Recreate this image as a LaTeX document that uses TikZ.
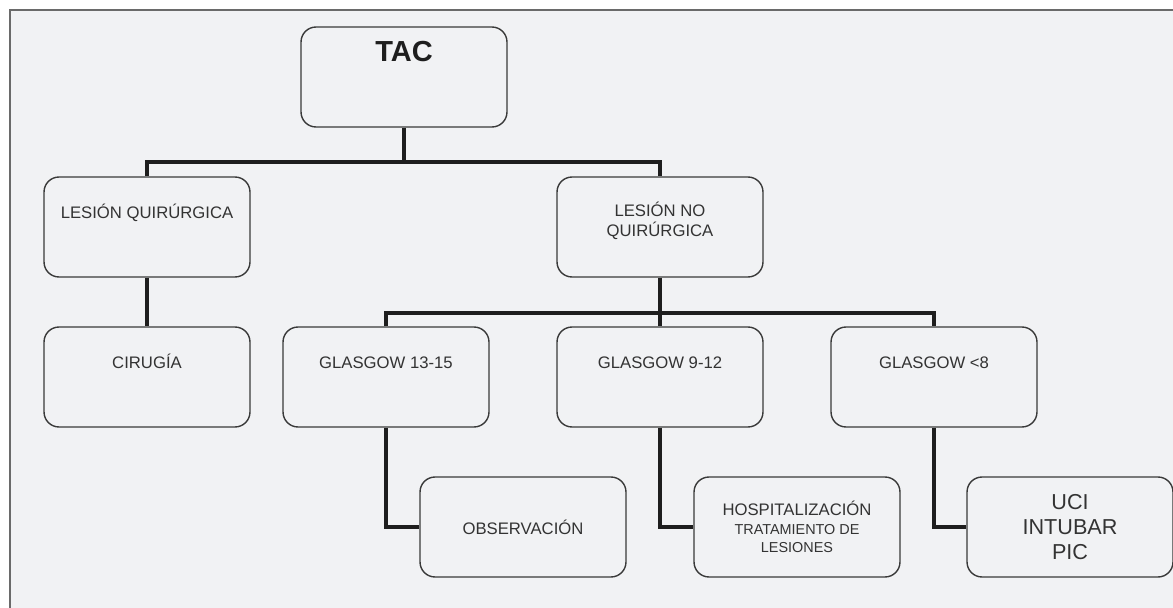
\documentclass[tikz,border=0pt]{standalone}
\usepackage{fontspec}
\setmainfont{Liberation Sans}
\usetikzlibrary{positioning}

\definecolor{fondo}{HTML}{F1F2F4}
\definecolor{borde}{HTML}{3A3A3A}
\definecolor{texto}{HTML}{333333}
\definecolor{linea}{HTML}{1E1E1E}
\definecolor{marco}{HTML}{6A6A6A}

\newcommand{\letrachica}{\fontsize{8.2pt}{10pt}\selectfont}

\tikzset{
  caja/.style={draw=borde, line width=0.8pt, rounded corners=0.3cm, fill=fondo,
    minimum width=4.12cm, minimum height=2cm, inner sep=0pt,
    text=texto, align=center, font=\fontsize{9.5pt}{10.6pt}\selectfont},
  rotulo/.style={text=texto, align=center, inner sep=0pt,
    font=\fontsize{9.5pt}{11.5pt}\selectfont},
  enlace/.style={draw=linea, line width=2.4pt, line join=miter},
}

\begin{document}
\begin{tikzpicture}[x=0.02cm, y=-0.02cm]
  \useasboundingbox (0,0) rectangle (1173,608);
  \fill[fondo] (10,10) rectangle (1173,608);
  \draw[marco, line width=1.1pt] (10,608) -- (10,10) -- (1173,10);

  % cajas
  \node[caja] (tac) at (404,77) {};
  \node[caja] (lq) at (147,227) {};
  \node[caja] (lnq) at (660,227) {};
  \node[caja] (cir) at (147,377) {};
  \node[caja] (g13) at (386,377) {};
  \node[caja] (g9) at (660,377) {};
  \node[caja] (g8) at (934,377) {};
  \node[caja] (obs) at (523,527) {OBSERVACIÓN};
  \node[caja] (hosp) at (797,527) {HOSPITALIZACIÓN\\\letrachica TRATAMIENTO DE\\\letrachica LESIONES};
  \node[caja, font=\fontsize{12.3pt}{14.3pt}\selectfont] (uci) at (1070,527) {UCI\\INTUBAR\\PIC};

  % textos arriba
  \node[rotulo, text=linea, font=\bfseries\fontsize{16.5pt}{18pt}\selectfont, anchor=base] (ttac) at ([yshift=-0.7cm]tac.north) {TAC};
  \node[rotulo, anchor=base] (tlq) at ([yshift=-0.84cm]lq.north) {LESIÓN QUIRÚRGICA};
  \node[rotulo, anchor=base] (tlnq) at ([yshift=-1.2cm]lnq.north) {LESIÓN NO\\QUIRÚRGICA};
  \node[rotulo, anchor=base] (tcir) at ([yshift=-0.84cm]cir.north) {CIRUGÍA};
  \node[rotulo, anchor=base] (tg13) at ([yshift=-0.84cm]g13.north) {GLASGOW 13-15};
  \node[rotulo, anchor=base] (tg9) at ([yshift=-0.84cm]g9.north) {GLASGOW 9-12};
  \node[rotulo, anchor=base] (tg8) at ([yshift=-0.84cm]g8.north) {GLASGOW <8};

  % conectores
  \coordinate (nudoA) at (404,162);
  \coordinate (nudoB) at (660,313);
  \draw[enlace] (tac.south) -- (nudoA);
  \draw[enlace] (lq.north) |- (nudoA) -| (lnq.north);
  \draw[enlace] (lq.south) -- (cir.north);
  \draw[enlace] (lnq.south) -- (nudoB);
  \draw[enlace] (g13.north) |- (nudoB) -| (g8.north);
  \draw[enlace] (nudoB) -- (g9.north);
  \draw[enlace] (g13.south) |- (obs.west);
  \draw[enlace] (g9.south) |- (hosp.west);
  \draw[enlace] (g8.south) |- (uci.west);
\end{tikzpicture}
\end{document}
